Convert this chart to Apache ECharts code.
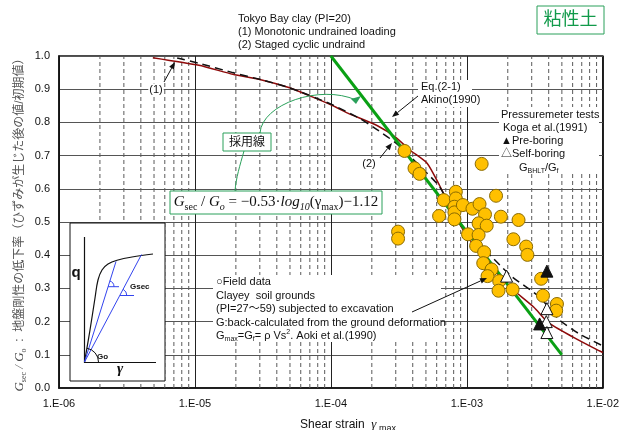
<!DOCTYPE html>
<html lang="ja">

<head>
  <meta charset="utf-8">
  <script src="https://cdn.jsdelivr.net/npm/echarts@6.0.0/dist/echarts.min.js"></script>
  <style>
    body { margin: 0; background: #fff; }
  </style>
</head>

<body>
  <div id="chart" style="width: 622px;height:430px;"></div>

  <script type="text/javascript">

    // (1) Monotonic undrained loading
    var curveMonotonic = [
        [4.9e-6, 0.995], [1.07e-5, 0.972], [1.9e-5, 0.945], [3.1e-5, 0.928], [4.9e-5, 0.905],
        [7e-5, 0.88], [1e-4, 0.853], [1.33e-4, 0.828], [2.2e-4, 0.79], [3e-4, 0.755],
        [3.8e-4, 0.717], [5.1e-4, 0.677], [6.3e-4, 0.61], [8.5e-4, 0.506], [1.05e-3, 0.446],
        [1.4e-3, 0.386], [1.75e-3, 0.335], [2.2e-3, 0.295], [3.1e-3, 0.244], [4e-3, 0.196],
        [6e-3, 0.154], [8.9e-3, 0.117], [1e-2, 0.107]
    ];

    // (2) Staged cyclic undrained
    var curveCyclic = [
        [7.4e-6, 0.994], [1.07e-5, 0.978], [1.9e-5, 0.95], [3.1e-5, 0.928], [4.9e-5, 0.905],
        [1e-4, 0.855], [1.66e-4, 0.81], [2.1e-4, 0.783], [3e-4, 0.738], [5.1e-4, 0.647],
        [6.3e-4, 0.606], [8.9e-4, 0.497], [1.1e-3, 0.455], [1.75e-3, 0.37], [2.15e-3, 0.335],
        [3.4e-3, 0.275], [4.8e-3, 0.205], [6.6e-3, 0.165], [1e-2, 0.127]
    ];

    // Eq.(2-1) adopted line
    var adoptedLine = [[1e-4, 1.0], [5e-3, 0.1]];

    // Field data (orange circles)
    var fieldData = [
        [3.48e-4, 0.714], [4.12e-4, 0.662], [4.49e-4, 0.645], [1.285e-3, 0.675],
        [6.76e-4, 0.566], [8.3e-4, 0.591], [8.3e-4, 0.571], [8.1e-4, 0.546], [8.1e-4, 0.529],
        [9.35e-4, 0.551], [1.1e-3, 0.54], [1.24e-3, 0.554], [1.64e-3, 0.579], [6.25e-4, 0.518],
        [8.1e-4, 0.508], [1.36e-3, 0.523], [1.22e-3, 0.496], [1.4e-3, 0.489], [1.78e-3, 0.516],
        [2.4e-3, 0.506], [3.12e-4, 0.471], [3.12e-4, 0.45], [1.02e-3, 0.463], [1.22e-3, 0.461],
        [1.17e-3, 0.428], [1.34e-3, 0.409], [2.2e-3, 0.448], [2.73e-3, 0.426], [2.79e-3, 0.401],
        [1.32e-3, 0.376], [1.52e-3, 0.357], [1.42e-3, 0.337], [1.73e-3, 0.322], [1.71e-3, 0.293],
        [2.17e-3, 0.297], [3.52e-3, 0.329], [3.63e-3, 0.278], [4.6e-3, 0.253], [4.54e-3, 0.233]
    ];

    // Pressuremeter tests
    var preBoring = [[3.88e-3, 0.352], [3.43e-3, 0.193]];
    var selfBoring = [[1.96e-3, 0.337], [3.88e-3, 0.239], [3.84e-3, 0.2], [3.88e-3, 0.167]];

    var minorMultipliers = [2, 3, 4, 5, 6, 7, 8, 9];
    var decades = [1e-6, 1e-5, 1e-4, 1e-3];

    var FONT = "'Liberation Sans', 'Noto Sans CJK JP', sans-serif";
    var SERIF = "'Liberation Serif', 'DejaVu Serif', serif";
    var GREEN_NOTE = '#2aa05a';

    // dashed vertical grid lines at 2..9 of each decade, drawn as line series
    function minorGridSeries() {
        var list = [];
        decades.forEach(function (d) {
            minorMultipliers.forEach(function (m) {
                list.push({
                    type: 'line',
                    data: [[d * m, 0], [d * m, 1]],
                    showSymbol: false,
                    silent: true,
                    lineStyle: { color: '#5a5a5a', type: [4, 3], width: 1 },
                    z: 1
                });
            });
        });
        return list;
    }

    function arrow(x1, y1, x2, y2, color) {
        var dx = x2 - x1, dy = y2 - y1;
        var len = Math.sqrt(dx * dx + dy * dy);
        var ux = dx / len, uy = dy / len;
        var hl = 7, hw = 2.8;
        var bx = x2 - ux * hl, by = y2 - uy * hl;
        return [
            { type: 'line', shape: { x1: x1, y1: y1, x2: bx, y2: by }, style: { stroke: color, lineWidth: 1 }, z: 100 },
            { type: 'polygon', shape: { points: [[x2, y2], [bx - uy * hw, by + ux * hw], [bx + uy * hw, by - ux * hw]] },
              style: { fill: color }, z: 100 }
        ];
    }

    function text(x, y, str, opts) {
        var style = Object.assign({ text: str, x: x, y: y, font: '11px ' + FONT, fill: '#111',
            align: 'left', verticalAlign: 'middle' }, opts || {});
        return { type: 'text', style: style, z: 101 };
    }

    function buildGraphics() {
        var g = [];

        // title texts
        g.push(text(238, 19, 'Tokyo Bay clay (PI=20)'));
        g.push(text(238, 32, '(1) Monotonic undrained loading'));
        g.push(text(238, 45, '(2) Staged cyclic undraind'));

        // 粘性土 box
        g.push({ type: 'rect', shape: { x: 537, y: 6, width: 67, height: 28 },
                 style: { fill: '#fff', stroke: GREEN_NOTE, lineWidth: 1 }, z: 100 });
        g.push(text(570.5, 20.5, '粘性土', { font: '18px ' + FONT, fill: '#119a4a', align: 'center' }));

        // (1) label + arrow
        g.push(text(156, 90, '(1)', { align: 'center', backgroundColor: '#fff', padding: [1, 1] }));
        g = g.concat(arrow(164, 82, 175, 62, '#111'));

        // Eq.(2-1) label + arrow
        g.push({ type: 'rect', shape: { x: 418, y: 80, width: 54, height: 27 }, style: { fill: '#fff' }, z: 99 });
        g.push(text(421, 87, 'Eq.(2-1)'));
        g.push(text(421, 100, 'Akino(1990)'));
        g = g.concat(arrow(418, 96, 392, 117, '#111'));

        // (2) label + arrow
        g.push(text(369, 164, '(2)', { align: 'center', backgroundColor: '#fff', padding: [1, 1] }));
        g = g.concat(arrow(380, 158, 392, 143, '#111'));

        // Pressuremeter tests block
        g.push({ type: 'rect', shape: { x: 499, y: 107, width: 100, height: 67 }, style: { fill: '#fff' }, z: 99 });
        g.push(text(501, 115, 'Pressuremeter tests'));
        g.push(text(503, 128, 'Koga et al.(1991)'));
        g.push(text(501, 141, '▲Pre-boring'));
        g.push(text(501, 154, '△Self-boring'));
        g.push({ type: 'text', z: 101, style: { x: 519, y: 168, verticalAlign: 'middle',
            text: '{a|G}{s|BHLT}{a|/G}{s|f}',
            rich: { a: { font: '11px ' + FONT, fill: '#111', lineHeight: 14 },
                    s: { font: '7px ' + FONT, fill: '#111', verticalAlign: 'bottom', lineHeight: 10 } } } });

        // 採用線 box and curved arrows
        g.push({ type: 'bezierCurve', shape: { x1: 260, y1: 133, cpx1: 262, cpy1: 104, cpx2: 320, cpy2: 84, x2: 356, y2: 100 },
                 style: { stroke: GREEN_NOTE, lineWidth: 1, fill: null }, z: 100 });
        g.push({ type: 'polygon', shape: { points: [[361, 96], [351, 99], [356, 104]] }, style: { fill: GREEN_NOTE }, z: 100 });
        g.push({ type: 'bezierCurve', shape: { x1: 244, y1: 151, cpx1: 240, cpy1: 165, cpx2: 236, cpy2: 178, x2: 235, y2: 191 },
                 style: { stroke: GREEN_NOTE, lineWidth: 1, fill: null }, z: 100 });
        g.push({ type: 'rect', shape: { x: 223, y: 133, width: 48, height: 18 },
                 style: { fill: '#fff', stroke: GREEN_NOTE, lineWidth: 1 }, z: 100 });
        g.push(text(247, 142.5, '採用線', { font: '12px ' + FONT, align: 'center' }));

        // formula box
        g.push({ type: 'rect', shape: { x: 170, y: 191, width: 212, height: 23 },
                 style: { fill: '#fff', stroke: GREEN_NOTE, lineWidth: 1 }, z: 100 });
        g.push({ type: 'text', z: 101, style: { x: 276, y: 202.5, align: 'center', verticalAlign: 'middle',
            text: '{i|G}{s|sec}{n| / }{i|G}{si|o}{n| = −0.53·}{i|log}{si|10}{n|(γ}{s|max}{n|)−1.12}',
            rich: {
                i: { font: 'italic 15px ' + SERIF, fill: '#111', lineHeight: 20 },
                n: { font: '15px ' + SERIF, fill: '#111', lineHeight: 20 },
                s: { font: '10px ' + SERIF, fill: '#111', verticalAlign: 'bottom', lineHeight: 13 },
                si: { font: 'italic 10px ' + SERIF, fill: '#111', verticalAlign: 'bottom', lineHeight: 13 }
            } } });

        // field data block
        g.push({ type: 'rect', shape: { x: 213, y: 275, width: 228, height: 67 }, style: { fill: '#fff' }, z: 99 });
        g.push(text(216, 282, '○Field data'));
        g.push(text(216, 295.5, 'Clayey  soil grounds'));
        g.push(text(216, 308.5, '(PI=27～59) subjected to excavation'));
        g.push(text(216, 322.5, 'G:back-calculated from the ground deformation'));
        g.push({ type: 'text', z: 101, style: { x: 216, y: 335.5, verticalAlign: 'middle',
            text: '{a|G}{s|max}{a|=G}{s|f}{a|= ρ Vs}{p|2}{a|. Aoki et al.(1990)}',
            rich: { a: { font: '11px ' + FONT, fill: '#111', lineHeight: 14 },
                    s: { font: '7px ' + FONT, fill: '#111', verticalAlign: 'bottom', lineHeight: 10 },
                    p: { font: '7px ' + FONT, fill: '#111', verticalAlign: 'top', lineHeight: 10 } } } });
        g = g.concat(arrow(412, 312, 487, 278, '#111'));

        // inset q-gamma sketch
        g.push({ type: 'rect', shape: { x: 70, y: 223, width: 95, height: 158 },
                 style: { fill: '#fff', stroke: '#111', lineWidth: 1 }, z: 100 });
        g.push({ type: 'polyline', shape: { points: [[84.5, 237], [84.5, 362.5], [156, 362.5]] },
                 style: { stroke: '#111', lineWidth: 1.2, fill: null }, z: 101 });
        g.push({ type: 'polyline', shape: { points: [[84.5, 362], [90, 330], [95, 298], [98, 280], [102, 270],
                 [108, 264], [118, 260], [132, 257], [153, 254]], smooth: 0.4 },
                 style: { stroke: '#111', lineWidth: 1.2, fill: null }, z: 101 });
        g.push({ type: 'line', shape: { x1: 84.5, y1: 362, x2: 116, y2: 261.5 }, style: { stroke: '#3344ee', lineWidth: 1 }, z: 101 });
        g.push({ type: 'line', shape: { x1: 84.5, y1: 362, x2: 141.5, y2: 254.5 }, style: { stroke: '#3344ee', lineWidth: 1 }, z: 101 });
        g.push({ type: 'line', shape: { x1: 108, y1: 286.7, x2: 119, y2: 286.7 }, style: { stroke: '#3344ee', lineWidth: 1 }, z: 101 });
        g.push({ type: 'line', shape: { x1: 120, y1: 295.5, x2: 134, y2: 295.5 }, style: { stroke: '#3344ee', lineWidth: 1 }, z: 101 });
        g.push({ type: 'arc', shape: { cx: 108, cy: 286.7, r: 6, startAngle: -1.27, endAngle: 0 },
                 style: { stroke: '#3344ee', lineWidth: 1, fill: null }, z: 101 });
        g.push({ type: 'arc', shape: { cx: 119.8, cy: 295.5, r: 7, startAngle: -1.08, endAngle: 0 },
                 style: { stroke: '#3344ee', lineWidth: 1, fill: null }, z: 101 });
        g.push({ type: 'arc', shape: { cx: 84.5, cy: 362, r: 14, startAngle: -1.4, endAngle: 0 },
                 style: { stroke: '#111', lineWidth: 1, fill: null }, z: 101 });
        g.push(text(76, 273, 'q', { font: 'bold 15px ' + FONT, align: 'center' }));
        g.push(text(120, 369, 'γ', { font: 'bold italic 15px ' + SERIF, align: 'center' }));
        g.push(text(130, 287, 'Gsec', { font: 'bold 8px ' + FONT }));
        g.push(text(97, 357, 'Go', { font: 'bold 8px ' + FONT }));

        // x axis name
        g.push({ type: 'text', z: 101, style: { x: 300, y: 425, verticalAlign: 'middle',
            text: '{a|Shear strain  }{g|γ}{s| max}',
            rich: { a: { font: '12px ' + FONT, fill: '#111', lineHeight: 16 },
                    g: { font: 'italic 13px ' + SERIF, fill: '#111', lineHeight: 16 },
                    s: { font: '9px ' + FONT, fill: '#111', verticalAlign: 'bottom', lineHeight: 12 } } } });

        return g;
    }

    function createChart() {
        var chart = echarts.init(document.getElementById('chart'));

        var series = minorGridSeries().concat([
            {
                name: '(1) Monotonic',
                type: 'line',
                data: curveMonotonic,
                showSymbol: false,
                smooth: 0.2,
                lineStyle: { color: '#8e0a0a', width: 1.5 },
                z: 3
            },
            {
                name: '(2) Cyclic',
                type: 'line',
                data: curveCyclic,
                showSymbol: false,
                smooth: 0.2,
                lineStyle: { color: '#111', width: 1.5, type: [8, 5] },
                z: 3
            },
            {
                name: 'Eq.(2-1)',
                type: 'line',
                data: adoptedLine,
                showSymbol: false,
                lineStyle: { color: '#0aa014', width: 3 },
                z: 4
            },
            {
                name: 'Field data',
                type: 'scatter',
                data: fieldData,
                symbol: 'circle',
                symbolSize: 13,
                itemStyle: { color: '#ffc000', borderColor: '#8a6a00', borderWidth: 1, opacity: 1 },
                z: 5
            },
            {
                name: 'Self-boring',
                type: 'scatter',
                data: selfBoring,
                symbol: 'triangle',
                symbolSize: 12,
                itemStyle: { color: '#fff', borderColor: '#111', borderWidth: 1, opacity: 1 },
                z: 6
            },
            {
                name: 'Pre-boring',
                type: 'scatter',
                data: preBoring,
                symbol: 'triangle',
                symbolSize: 12,
                itemStyle: { color: '#111', borderColor: '#111', borderWidth: 1, opacity: 1 },
                z: 6
            }
        ]);

        var option = {
            animation: false,
            grid: { left: 59, right: 15, top: 56, bottom: 42, show: true, borderColor: '#111', borderWidth: 1.5 },
            xAxis: {
                type: 'log',
                logBase: 10,
                min: 1e-6,
                max: 1e-2,
                axisLine: { lineStyle: { color: '#111', width: 1.5 } },
                axisTick: { show: false },
                axisLabel: {
                    color: '#111', fontSize: 11, fontFamily: FONT, margin: 10,
                    formatter: function (v) {
                        var e = Math.round(Math.log10(v));
                        return '1.E' + (e < 0 ? '-' : '+') + String(Math.abs(e)).padStart(2, '0');
                    }
                },
                splitLine: { show: true, lineStyle: { color: '#222', width: 1 } }
            },
            yAxis: {
                type: 'value',
                min: 0,
                max: 1,
                interval: 0.1,
                axisLine: { show: true, lineStyle: { color: '#111', width: 1.5 } },
                axisTick: { show: false },
                axisLabel: {
                    color: '#111', fontSize: 11, fontFamily: FONT, margin: 9,
                    formatter: function (v) { return v.toFixed(1); }
                },
                splitLine: { show: true, lineStyle: { color: '#555', width: 1 } },
                name: '{i|G}{s|sec}{i| / G}{s|o}{t|  :  地盤剛性の低下率（ひずみが生じた後の値/初期値）}',
                nameLocation: 'middle',
                nameRotate: 90,
                nameGap: 31,
                nameMoveOverlap: false,
                nameTextStyle: {
                    rich: {
                        i: { fontFamily: SERIF, fontStyle: 'italic', fontSize: 13, color: '#444', lineHeight: 16 },
                        s: { fontFamily: SERIF, fontSize: 8, color: '#444', verticalAlign: 'bottom', lineHeight: 10 },
                        t: { fontFamily: FONT, fontSize: 12, color: '#555', lineHeight: 16 }
                    }
                }
            },
            series: series,
            graphic: buildGraphics()
        };

        chart.setOption(option);
    }
    createChart();
  </script>
</body>

</html>
